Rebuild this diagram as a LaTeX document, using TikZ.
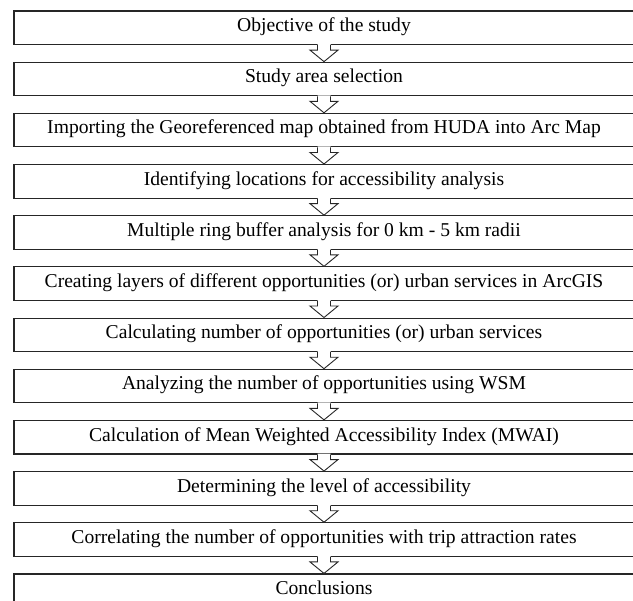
\documentclass[tikz,border=0pt]{standalone}
\usepackage{fontspec}
\setmainfont{Liberation Serif}
\usetikzlibrary{calc}
\tikzset{
  stepbox/.style={draw=black!85, line width=1.1pt, fill=white, minimum width=620pt, minimum height=33.6pt,
    inner sep=0pt, text height=0.82em, text depth=0.06em, font=\fontsize{19.6}{21}\selectfont},
  blockarrow/.style={draw=black!85, line width=0.9pt}
}
\newcommand{\blockarr}[2]{%
  \fill[white] ($(#1.south)+(-6.5,1)$) -- ($(#1.south)+(-6.5,-5)$) -- ($(#1.south)+(-14,-5)$) -- (#2.north)
    -- ($(#1.south)+(14,-5)$) -- ($(#1.south)+(6.5,-5)$) -- ($(#1.south)+(6.5,1)$) -- cycle;
  \draw[blockarrow] ($(#1.south)+(-6.5,0)$) -- ($(#1.south)+(-6.5,-5)$) -- ($(#1.south)+(-14,-5)$) -- (#2.north)
    -- ($(#1.south)+(14,-5)$) -- ($(#1.south)+(6.5,-5)$) -- ($(#1.south)+(6.5,0)$);
}
\begin{document}
\begin{tikzpicture}[x=1pt,y=1pt]
\useasboundingbox (0,0) rectangle (633,601);
\def\pitch{51.18}
\foreach \i/\t in {0/Objective of the study,
  1/Study area selection,
  2/Importing the Georeferenced map obtained from HUDA into Arc Map,
  3/Identifying locations for accessibility analysis,
  4/Multiple ring buffer analysis for 0 km - 5 km radii,
  5/Creating layers of different opportunities (or) urban services in ArcGIS,
  6/Calculating number of opportunities (or) urban services,
  7/Analyzing the number of opportunities using WSM,
  8/Calculation of Mean Weighted Accessibility Index (MWAI),
  9/Determining the level of accessibility,
  10/Correlating the number of opportunities with trip attraction rates,
  11/Conclusions}{
  \node[stepbox] (b\i) at (324, {601-11-16.8-\pitch*\i}) {\t};
}
\foreach \i [evaluate=\i as \j using int(\i+1)] in {0,...,10}{
  \blockarr{b\i}{b\j}
}
\end{tikzpicture}
\end{document}
